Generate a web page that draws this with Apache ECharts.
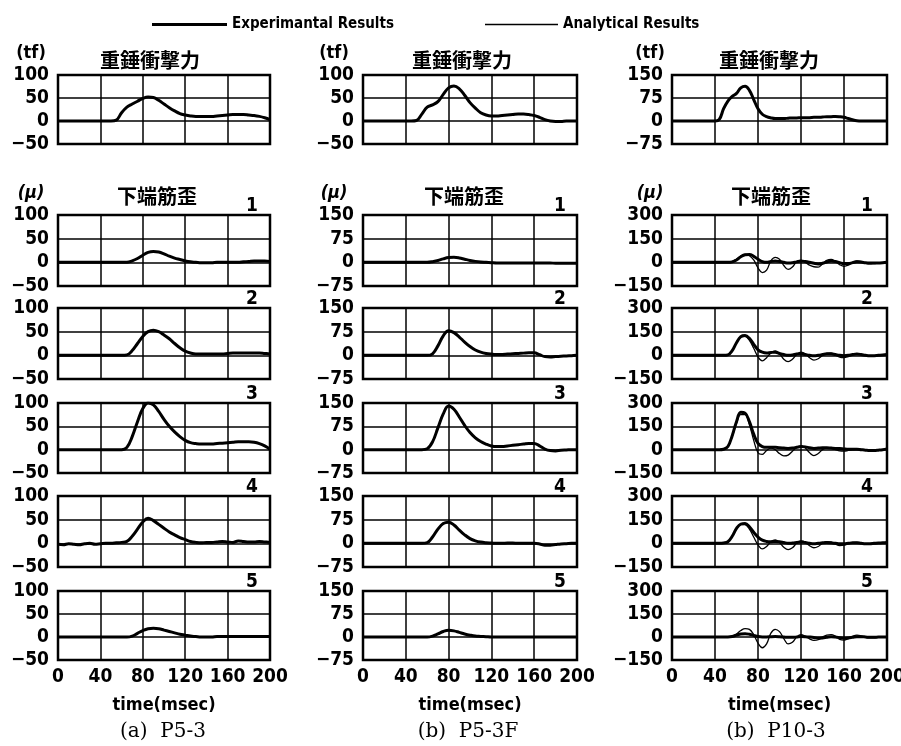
<!DOCTYPE html>
<html>
<head>
    <meta charset="utf-8">
    <title></title>
    <script src="https://cdn.jsdelivr.net/npm/echarts@6/dist/echarts.min.js"></script>
    <style>
        html, body { margin: 0; padding: 0; background: #fff; }
        #main { width: 901px; height: 746px; }
    </style>
</head>
<body>
<div id="main"></div>
<script type="text/javascript">
    // time axes (msec)
    var timeA = [0, 5, 10, 15, 20, 25, 30, 35, 40, 45, 50, 55, 60, 65, 70, 75, 80, 85, 90, 95, 100,
        105, 110, 115, 120, 125, 130, 135, 140, 145, 150, 155, 160, 165, 170, 175, 180, 185, 190, 195, 200];
    var timeB = [0, 4, 8, 12, 16, 20, 24, 28, 32, 36, 40, 44, 48, 52, 56, 60, 64, 68, 72, 76, 80,
        84, 88, 92, 96, 100, 104, 108, 112, 116, 120, 124, 128, 132, 136, 140, 144, 148, 152, 156, 160,
        164, 168, 172, 176, 180, 184, 188, 192, 196, 200];

    // (a) P5-3  -- step timeA
    var forceA = [0, 0, 0, 0, 0, 0, 0, 0, 0, 0, 0, 2, 18, 30, 37, 43, 49, 52, 51, 45, 37,
        29, 22, 16, 13, 11, 10, 10, 10, 10, 11, 12, 13, 14, 14, 14, 13, 12, 10, 7, 3];
    var strainA1 = [0, 0, 0, 0, 0, 0, 0, 0, 0, 0, 0, 0, 0, 0, 3, 8, 15, 21, 23, 22, 18,
        13, 9, 6, 3, 1, 0, -1, -1, -1, 0, 0, 0, 0, 0, 1, 2, 3, 3, 3, 2];
    var strainA2 = [0, 0, 0, 0, 0, 0, 0, 0, 0, 0, 0, 0, 0, 1, 10, 25, 40, 50, 53, 50, 43,
        35, 25, 16, 9, 5, 3, 3, 3, 3, 3, 3, 4, 5, 5, 5, 5, 5, 5, 4, 3];
    var strainA3 = [0, 0, 0, 0, 0, 0, 0, 0, 0, 0, 0, 0, 0, 5, 28, 60, 88, 100, 96, 82, 65,
        50, 38, 28, 20, 15, 13, 12, 12, 12, 13, 14, 15, 16, 17, 17, 17, 16, 13, 8, 1];
    var strainA4 = [-2, -3, -1, -2, -3, -1, 0, -2, -1, 0, 0, 1, 2, 4, 15, 30, 45, 53, 48, 40, 32,
        24, 18, 12, 8, 4, 2, 1, 2, 2, 3, 4, 3, 2, 5, 4, 3, 3, 4, 3, 2];
    var strainA5 = [0, 0, 0, 0, 0, 0, 0, 0, 0, 0, 0, 0, 0, 0, 2, 8, 14, 18, 19, 18, 15,
        12, 9, 6, 4, 2, 1, 0, 0, 0, 1, 1, 1, 1, 1, 1, 1, 1, 1, 1, 1];

    // (b) P5-3F  -- step timeA
    var forceB = [0, 0, 0, 0, 0, 0, 0, 0, 0, 0, 1, 15, 30, 35, 42, 58, 72, 76, 70, 56, 40,
        28, 18, 13, 11, 11, 12, 13, 14, 15, 15, 14, 12, 8, 3, 0, -1, -1, 0, 0, 0];
    var strainB1 = [0, 0, 0, 0, 0, 0, 0, 0, 0, 0, 0, 0, 0, 2, 6, 11, 15, 16, 14, 10, 6,
        3, 1, 0, -1, -2, -2, -2, -2, -2, -2, -2, -2, -2, -2, -2, -3, -3, -3, -3, -3];
    var strainB2 = [0, 0, 0, 0, 0, 0, 0, 0, 0, 0, 0, 0, 0, 5, 30, 62, 78, 72, 58, 42, 28,
        17, 10, 6, 4, 3, 3, 4, 5, 6, 7, 8, 8, 2, -4, -5, -4, -3, -2, -1, 0];
    var strainB3 = [0, 0, 0, 0, 0, 0, 0, 0, 0, 0, 0, 0, 3, 25, 70, 115, 140, 130, 105, 78, 55,
        38, 26, 18, 12, 10, 10, 12, 14, 16, 18, 20, 20, 12, 2, -3, -4, -2, -1, 0, 0];
    var strainB4 = [0, 0, 0, 0, 0, 0, 0, 0, 0, 0, 0, 0, 2, 20, 45, 63, 67, 58, 42, 27, 15,
        8, 4, 2, 1, 0, 0, 1, 1, 0, 0, 0, 0, -2, -6, -6, -4, -2, -1, 0, 0];
    var strainB5 = [0, 0, 0, 0, 0, 0, 0, 0, 0, 0, 0, 0, 0, 3, 10, 18, 22, 20, 15, 10, 6,
        3, 2, 1, 0, 0, 0, 0, 0, 0, 0, 0, 0, 0, 0, 0, 0, 0, 0, 0, 0];

    // (b) P10-3  -- step timeB, experimental and analytical
    var forceC = [0, 0, 0, 0, 0, 0, 0, 0, 0, 0, 0, 5, 40, 65, 80, 90, 108, 113, 100, 70, 40,
        22, 14, 10, 8, 8, 8, 9, 10, 10, 11, 11, 11, 12, 12, 13, 14, 14, 15, 14, 12,
        8, 4, 1, 0, 0, 0, 0, 0, 0, 0];
    var expC1 = [0, 0, 0, 0, 0, 0, 0, 0, 0, 0, 0, 0, 0, 0, 3, 15, 35, 48, 50, 38, 20,
        5, 0, 5, 8, 5, 0, -5, -3, 3, 8, 5, 0, -6, -10, -6, 2, 8, 5, -2, -8,
        -8, -2, 4, 2, -3, -5, -5, -4, -3, 0];
    var anaC1 = [0, 0, 0, 0, 0, 0, 0, 0, 0, 0, 0, 0, 0, 0, 5, 20, 40, 50, 42, 15, -35,
        -65, -50, 10, 32, 20, -20, -45, -30, 5, 13, 0, -18, -28, -30, -10, 12, 18, 5, -15, -25,
        -18, 0, 9, 5, -5, -10, -8, -5, -3, 0];
    var expC2 = [0, 0, 0, 0, 0, 0, 0, 0, 0, 0, 0, 0, 0, 3, 30, 80, 118, 125, 108, 70, 35,
        20, 15, 18, 20, 12, 5, 0, 2, 8, 10, 5, 0, -3, 0, 5, 10, 10, 5, 0, -2,
        0, 5, 8, 5, 0, -3, -2, 0, 2, 5];
    var anaC2 = [0, 0, 0, 0, 0, 0, 0, 0, 0, 0, 0, 0, 0, 3, 30, 80, 115, 120, 95, 45, -10,
        -35, -15, 15, 28, 10, -25, -40, -25, 5, 20, 10, -15, -30, -22, 0, 12, 14, 2, -12, -15,
        -8, 3, 8, 5, -2, -6, -5, -2, 0, 2];
    var expC3 = [0, 0, 0, 0, 0, 0, 0, 0, 0, 0, 0, 0, 3, 20, 90, 180, 240, 235, 180, 100, 40,
        20, 15, 15, 15, 12, 10, 8, 10, 15, 20, 18, 12, 8, 10, 12, 12, 10, 8, 8, 5,
        3, 3, 3, 0, -3, -5, -5, -3, 0, 5];
    var anaC3 = [0, 0, 0, 0, 0, 0, 0, 0, 0, 0, 0, 0, 3, 20, 85, 170, 225, 225, 160, 60, -20,
        -30, -5, 10, 0, -25, -40, -35, -10, 15, 25, 10, -20, -38, -25, 0, 10, 8, 0, -8, -10,
        -5, 0, 3, 2, -2, -5, -5, -3, 0, 3];
    var expC4 = [0, 0, 0, 0, 0, 0, 0, 0, 0, 0, 0, 0, 2, 10, 45, 95, 122, 125, 105, 70, 40,
        20, 12, 10, 12, 10, 5, 0, 2, 5, 8, 5, 0, -3, 0, 3, 5, 3, 0, -3, -3,
        0, 3, 3, 0, -2, -2, 0, 2, 3, 5];
    var anaC4 = [0, 0, 0, 0, 0, 0, 0, 0, 0, 0, 0, 0, 2, 10, 45, 92, 120, 118, 90, 40, -10,
        -35, -20, 10, 22, 5, -25, -40, -28, 0, 15, 8, -15, -28, -20, 0, 10, 8, -5, -14, -12,
        -3, 5, 6, 2, -3, -5, -3, 0, 2, 2];
    var expC5 = [0, 0, 0, 0, 0, 0, 0, 0, 0, 0, 0, 0, 0, 0, 3, 12, 20, 22, 18, 10, 3,
        0, 0, 2, 3, 2, 0, -2, -2, 0, 3, 2, 0, -3, -8, -6, -2, 2, 0, -4, -8,
        -6, -2, 2, 2, 0, -2, -2, 0, 0, 0];
    var anaC5 = [0, 0, 0, 0, 0, 0, 0, 0, 0, 0, 0, 0, 0, 0, 5, 20, 42, 55, 50, 15, -40,
        -70, -45, 25, 50, 35, -10, -45, -35, 0, 15, 5, -12, -22, -18, 0, 12, 15, 5, -15, -20,
        -10, 5, 12, 8, -2, -6, -5, -2, 0, 0];

    var EXP = 'Experimantal Results';
    var ANA = 'Analytical Results';
    var NUM_FONT = '"Liberation Sans Narrow", "DejaVu Sans Condensed", "Roboto Condensed", sans-serif';
    var CJK_FONT = '"Noto Sans CJK JP", sans-serif';
    var SERIF_FONT = '"DejaVu Serif", "Liberation Serif", serif';

    // layout of the 3 x 6 panels (pixels)
    var colLeft = [58, 363, 672];
    var colWidth = [212, 214, 215];
    var rowTop = [75, 215, 308, 403, 496, 591];
    var rowHeight = [69, 71, 71, 70, 71, 69];
    // y range per column: [force, strain]
    var yRange = [
        [{min: -50, max: 100, interval: 50}, {min: -50, max: 100, interval: 50}],
        [{min: -50, max: 100, interval: 50}, {min: -75, max: 150, interval: 75}],
        [{min: -75, max: 150, interval: 75}, {min: -150, max: 300, interval: 150}]
    ];
    var expData = [
        [forceA, strainA1, strainA2, strainA3, strainA4, strainA5],
        [forceB, strainB1, strainB2, strainB3, strainB4, strainB5],
        [forceC, expC1, expC2, expC3, expC4, expC5]
    ];
    var anaData = [null, null, [null, anaC1, anaC2, anaC3, anaC4, anaC5]];
    var expTime = [timeA, timeA, timeB];

    function pairs(t, v) {
        var out = [];
        for (var i = 0; i < v.length; i++) out.push([t[i], v[i]]);
        return out;
    }

    var grids = [], xAxes = [], yAxes = [], series = [];
    for (var c = 0; c < 3; c++) {
        for (var r = 0; r < 6; r++) {
            var g = grids.length;
            var last = (r === 5);
            var yr = yRange[c][r === 0 ? 0 : 1];
            grids.push({
                left: colLeft[c], top: rowTop[r], width: colWidth[c], height: rowHeight[r],
                outerBoundsMode: 'none', containLabel: false,
                show: true, borderColor: '#000', borderWidth: 2.5, backgroundColor: 'transparent'
            });
            xAxes.push({
                gridIndex: g, type: 'value', min: 0, max: 200, interval: 40,
                axisLine: {show: false}, axisTick: {show: false},
                splitLine: {show: true, lineStyle: {color: '#000', width: 1.5}},
                axisLabel: {show: last, color: '#000', fontSize: 19, fontWeight: 'bold', fontFamily: NUM_FONT, margin: 8},
                name: last ? 'time(msec)' : '', nameLocation: 'middle', nameGap: 36,
                nameTextStyle: {color: '#000', fontSize: 18, fontWeight: 'bold', fontFamily: NUM_FONT}
            });
            yAxes.push({
                gridIndex: g, type: 'value', min: yr.min, max: yr.max, interval: yr.interval,
                axisLine: {show: false}, axisTick: {show: false},
                splitLine: {show: true, lineStyle: {color: '#000', width: 1.5}},
                axisLabel: {
                    color: '#000', fontSize: 19, fontWeight: 'bold', fontFamily: NUM_FONT, margin: 9,
                    formatter: function (v) { return v < 0 ? '\u2212' + (-v) : '' + v; }
                }
            });
            series.push({
                name: EXP, type: 'line', xAxisIndex: g, yAxisIndex: g, smooth: 0.4,
                showSymbol: false, symbol: 'none', color: '#000',
                lineStyle: {color: '#000', width: 3}, data: pairs(expTime[c], expData[c][r]), z: 3
            });
            if (anaData[c] && anaData[c][r]) {
                series.push({
                    name: ANA, type: 'line', xAxisIndex: g, yAxisIndex: g, smooth: 0.4,
                    showSymbol: false, symbol: 'none', color: '#000',
                    lineStyle: {color: '#000', width: 1.3}, data: pairs(timeB, anaData[c][r]), z: 4
                });
            }
        }
    }

    // free text: units, titles, panel numbers, captions
    var texts = [];
    function addText(x, y, s, font) {
        texts.push({type: 'text', x: x, y: y, z: 10,
            style: {text: s, font: font, fill: '#000', textAlign: 'center', textVerticalAlign: 'middle'}});
    }
    var unitX = [31, 334, 650];
    var titleX = [150, 462, 769];
    var strainX = [157, 464, 771];
    var numX = [252, 560, 867];
    var captionX = [163, 468, 776];
    var captions = ['(a)  P5-3', '(b)  P5-3F', '(b)  P10-3'];
    for (var k = 0; k < 3; k++) {
        addText(unitX[k], 53, '(tf)', 'bold 18px ' + NUM_FONT);
        addText(titleX[k], 60, '重錘衝撃力', 'bold 20px ' + CJK_FONT);
        addText(unitX[k], 193, '(\u03bc)', 'bold italic 18px ' + NUM_FONT);
        addText(strainX[k], 196, '下端筋歪', 'bold 20px ' + CJK_FONT);
        for (var n = 1; n <= 5; n++) {
            addText(numX[k], rowTop[n] - 9, '' + n, 'bold 19px ' + NUM_FONT);
        }
        addText(captionX[k], 732, captions[k], '20px ' + SERIF_FONT);
    }

    var chart = echarts.init(document.getElementById('main'));
    chart.setOption({
        animation: false,
        legend: [{
            data: [EXP], left: 147, top: 12, icon: 'rect', itemWidth: 75, itemHeight: 3, itemGap: 2,
            selectedMode: false, textStyle: {color: '#000', fontSize: 15, fontWeight: 'bold', fontFamily: NUM_FONT}
        }, {
            data: [ANA], left: 480, top: 12, icon: 'rect', itemWidth: 73, itemHeight: 1.5, itemGap: 2,
            selectedMode: false, textStyle: {color: '#000', fontSize: 15, fontWeight: 'bold', fontFamily: NUM_FONT}
        }],
        grid: grids,
        xAxis: xAxes,
        yAxis: yAxes,
        series: series,
        graphic: texts
    });
</script>
</body>
</html>
